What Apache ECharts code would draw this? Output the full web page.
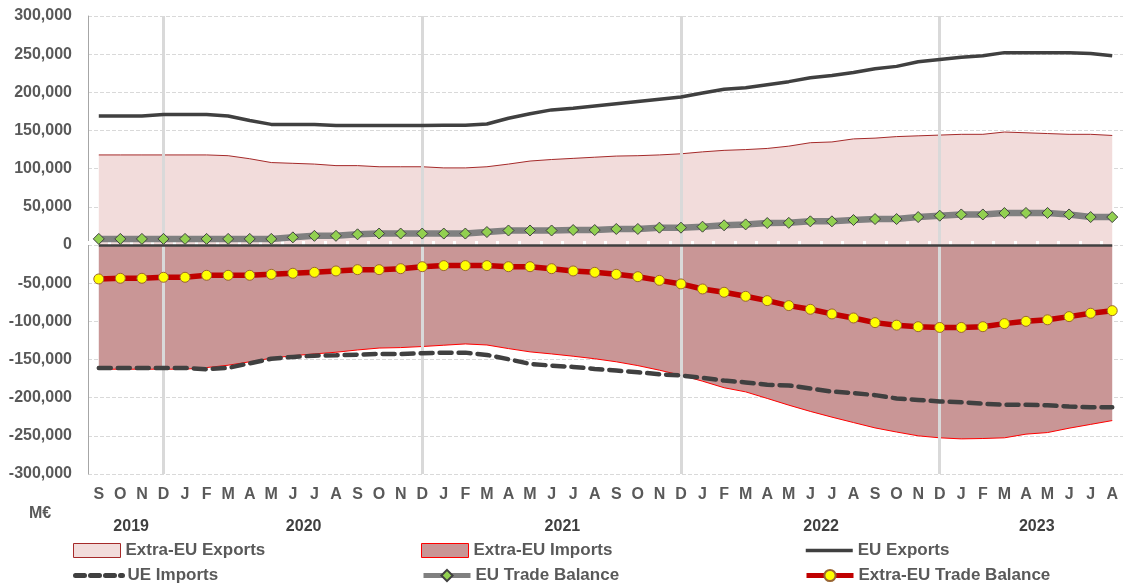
<!DOCTYPE html>
<html>
<head>
<meta charset="utf-8">
<script src="https://cdn.jsdelivr.net/npm/echarts@6/dist/echarts.min.js"></script>
<style>
  html, body { margin: 0; padding: 0; background: #fff; }
  #chart { width: 1123px; height: 587px; }
</style>
</head>
<body>
<div id="chart"></div>
<script>
const months = ['S','O','N','D',
  'J','F','M','A','M','J','J','A','S','O','N','D',
  'J','F','M','A','M','J','J','A','S','O','N','D',
  'J','F','M','A','M','J','J','A','S','O','N','D',
  'J','F','M','A','M','J','J','A']

// year label, first and last month index
const years = [['2019', 0, 3], ['2020', 4, 15], ['2021', 16, 27], ['2022', 28, 39], ['2023', 40, 47]]
const decemberIdx = [3, 15, 27, 39]

const extraExports = [118000,118000,118000,118000,118000,118000,117000,113000,108000,107000,106000,104000,
  104000,102500,102500,102500,101000,101000,102500,106000,110000,112000,113500,115000,
  116500,117000,118000,119500,122000,124000,125000,126500,129500,134000,135000,139000,
  140000,142000,143000,144000,145000,145000,148000,147000,146000,145000,145000,143500]
const extraImports = [-162700,-162700,-162700,-162700,-162700,-160600,-157500,-153000,-148300,-145000,-142700,-140500,
  -137500,-135000,-134400,-133000,-131300,-129600,-131000,-135700,-140000,-142700,-145700,-149000,
  -153000,-158000,-164000,-170600,-178400,-187000,-192400,-201000,-209800,-218000,-225500,-232600,
  -239600,-245000,-250000,-252600,-254000,-253500,-252600,-247800,-245700,-240000,-235000,-230000]
const euExports = [169000,169000,169000,171000,171000,171000,169000,163000,158000,158000,158000,156500,
  156500,156500,156500,156500,157000,157000,158500,166000,172000,177000,179000,182000,
  185000,188000,191000,194000,199000,204000,206000,210000,214000,219000,222000,226000,
  231000,234000,240000,243000,246000,248000,252000,252000,252000,252000,251000,248000]
const ueImports = [-161000,-161000,-161000,-161000,-161000,-162700,-161000,-155000,-149000,-146600,-145000,-144400,
  -143600,-142700,-142700,-141800,-141000,-141000,-144000,-149600,-155800,-158000,-159700,-162300,
  -164500,-166700,-169300,-171000,-174000,-177600,-180000,-183000,-184000,-188000,-192000,-194000,
  -196700,-201000,-203000,-205000,-206000,-208000,-209400,-209400,-210000,-211600,-212500,-212500]
const euBalance = [8000,8000,8000,8000,8000,8000,8000,8000,8000,10000,12000,12000,
  14000,15000,15000,15000,15000,15000,17000,19000,19000,19000,19600,19600,
  21000,21000,22700,22700,24000,25800,27000,28800,29000,31000,31000,32700,
  34000,34000,36600,38400,40000,40000,41900,42000,42000,40000,36600,36600]
const extraBalance = [-44500,-43600,-43600,-42300,-42300,-39700,-39700,-39700,-38400,-37000,-35800,-34000,
  -32300,-32300,-31000,-28400,-27000,-27000,-27000,-28400,-28400,-31000,-34000,-35800,
  -38400,-41500,-46300,-51000,-57600,-61900,-67200,-72900,-79400,-84200,-90300,-95600,
  -101700,-105000,-107000,-108000,-108000,-107000,-103000,-100000,-98000,-93800,-89400,-86000]

const FONT = 'Liberation Sans'
const TXT = '#595959'

const chart = echarts.init(document.getElementById('chart'))

// one legend per entry so the 3 x 2 layout can be placed like the original
const legendOne = (left, top, item) => ({
  left: left,
  top: top,
  padding: 0,
  itemWidth: 47,
  itemHeight: 14,
  itemGap: 0,
  selectedMode: false,
  textStyle: { fontFamily: FONT, fontWeight: 'bold', fontSize: 17, color: TXT },
  data: [item]
})

const row1 = 542, row2 = 567

chart.setOption({
  animation: false,
  backgroundColor: '#fff',
  grid: { left: 88, right: 0, top: 16, bottom: 113 },
  legend: [
    legendOne(73, row1, { name: 'Extra-EU Exports', icon: 'rect', itemStyle: { color: '#f2dcdb', borderColor: '#a52a2a', borderWidth: 1 } }),
    legendOne(73, row2, { name: 'UE Imports', itemStyle: { opacity: 0 }, lineStyle: { width: 5, type: [9, 6], cap: 'round' } }),
    legendOne(421, row1, { name: 'Extra-EU Imports', icon: 'rect', itemStyle: { color: '#c99696', borderColor: '#ff0000', borderWidth: 1 } }),
    legendOne(421, row2, { name: 'EU Trade Balance', lineStyle: { width: 5 } }),
    legendOne(804, row1, { name: 'EU Exports', itemStyle: { opacity: 0 }, lineStyle: { width: 3.5 } }),
    legendOne(804, row2, { name: 'Extra-EU Trade Balance', lineStyle: { width: 5 } })
  ],
  xAxis: [
    {
      type: 'category',
      data: months,
      boundaryGap: true,
      position: 'bottom',
      axisLine: { show: false, onZero: false },
      axisTick: { show: false },
      axisLabel: { interval: 0, margin: 13, fontFamily: FONT, fontWeight: 'bold', fontSize: 16, color: TXT },
      splitLine: { show: false }
    },
    {
      type: 'category',
      data: months,
      boundaryGap: true,
      position: 'bottom',
      z: 4,
      axisLine: { show: false, onZero: true },
      axisTick: { show: true, inside: true, length: 4, interval: 0, lineStyle: { color: '#ffffff', width: 3 } },
      axisLabel: { show: false },
      splitLine: { show: false }
    }
  ],
  yAxis: {
    type: 'value',
    min: -300000,
    max: 300000,
    interval: 50000,
    axisLine: { show: true, lineStyle: { color: '#a6a6a6', width: 1 } },
    axisTick: { show: false },
    axisLabel: {
      margin: 16,
      fontFamily: FONT, fontWeight: 'bold', fontSize: 16, color: TXT,
      formatter: v => v.toLocaleString('en-US')
    },
    splitLine: { lineStyle: { color: '#d9d9d9', type: 'dashed', width: 1 } }
  },
  series: [
    {
      name: 'Extra-EU Exports',
      type: 'line',
      data: extraExports,
      z: 2,
      showSymbol: false,
      lineStyle: { color: '#a52a2a', width: 1 },
      itemStyle: { color: '#f2dcdb', borderColor: '#a52a2a' },
      areaStyle: { color: '#f2dcdb', opacity: 1 }
    },
    {
      name: 'Extra-EU Imports',
      type: 'line',
      data: extraImports,
      z: 2,
      showSymbol: false,
      lineStyle: { color: '#ff0000', width: 1 },
      itemStyle: { color: '#c99696', borderColor: '#ff0000' },
      areaStyle: { color: '#c99696', opacity: 1 }
    },
    {
      // reference lines: Decembers and the zero line
      type: 'line',
      data: [],
      silent: true,
      markLine: {
        silent: true,
        symbol: 'none',
        label: { show: false },
        z: 5,
        data: decemberIdx.map(i => ({ xAxis: i, lineStyle: { color: '#d9d9d9', width: 3, type: 'solid' } }))
          .concat([[
            { coord: [0, 0], lineStyle: { color: '#404040', width: 2.5, type: 'solid' } },
            { coord: [months.length - 1, 0] }
          ]])
      }
    },
    {
      name: 'EU Exports',
      type: 'line',
      data: euExports,
      z: 6,
      showSymbol: false,
      symbol: 'none',
      lineStyle: { color: '#404040', width: 3.5 },
      itemStyle: { color: '#404040' }
    },
    {
      name: 'UE Imports',
      type: 'line',
      data: ueImports,
      z: 6,
      showSymbol: false,
      symbol: 'none',
      lineStyle: { color: '#404040', width: 4.5, type: [12, 7], cap: 'round' },
      itemStyle: { color: '#404040' }
    },
    {
      name: 'EU Trade Balance',
      type: 'line',
      data: euBalance,
      z: 7,
      symbol: 'diamond',
      symbolSize: 11,
      lineStyle: { color: '#808080', width: 6.5 },
      itemStyle: { color: '#92d050', borderColor: '#404040', borderWidth: 1 }
    },
    {
      name: 'Extra-EU Trade Balance',
      type: 'line',
      data: extraBalance,
      z: 7,
      symbol: 'circle',
      symbolSize: 10,
      lineStyle: { color: '#c00000', width: 5.5 },
      itemStyle: { color: '#ffff00', borderColor: '#996633', borderWidth: 1 }
    }
  ]
})

// year labels centred under their months, plus unit label
const yearGraphics = years.map(([label, a, b]) => {
  const x0 = chart.convertToPixel({ xAxisIndex: 0 }, a)
  const x1 = chart.convertToPixel({ xAxisIndex: 0 }, b)
  return {
    type: 'text',
    x: (x0 + x1) / 2,
    y: 527,
    style: { text: label, align: 'center', verticalAlign: 'middle', fontFamily: FONT, fontWeight: 'bold', fontSize: 16, fill: '#404040' }
  }
})
chart.setOption({
  graphic: yearGraphics.concat([{
    type: 'text',
    x: 40,
    y: 514,
    style: { text: 'M€', align: 'center', verticalAlign: 'middle', fontFamily: FONT, fontWeight: 'bold', fontSize: 16, fill: TXT }
  }])
})

window.addEventListener('resize', () => chart.resize())
</script>
</body>
</html>
